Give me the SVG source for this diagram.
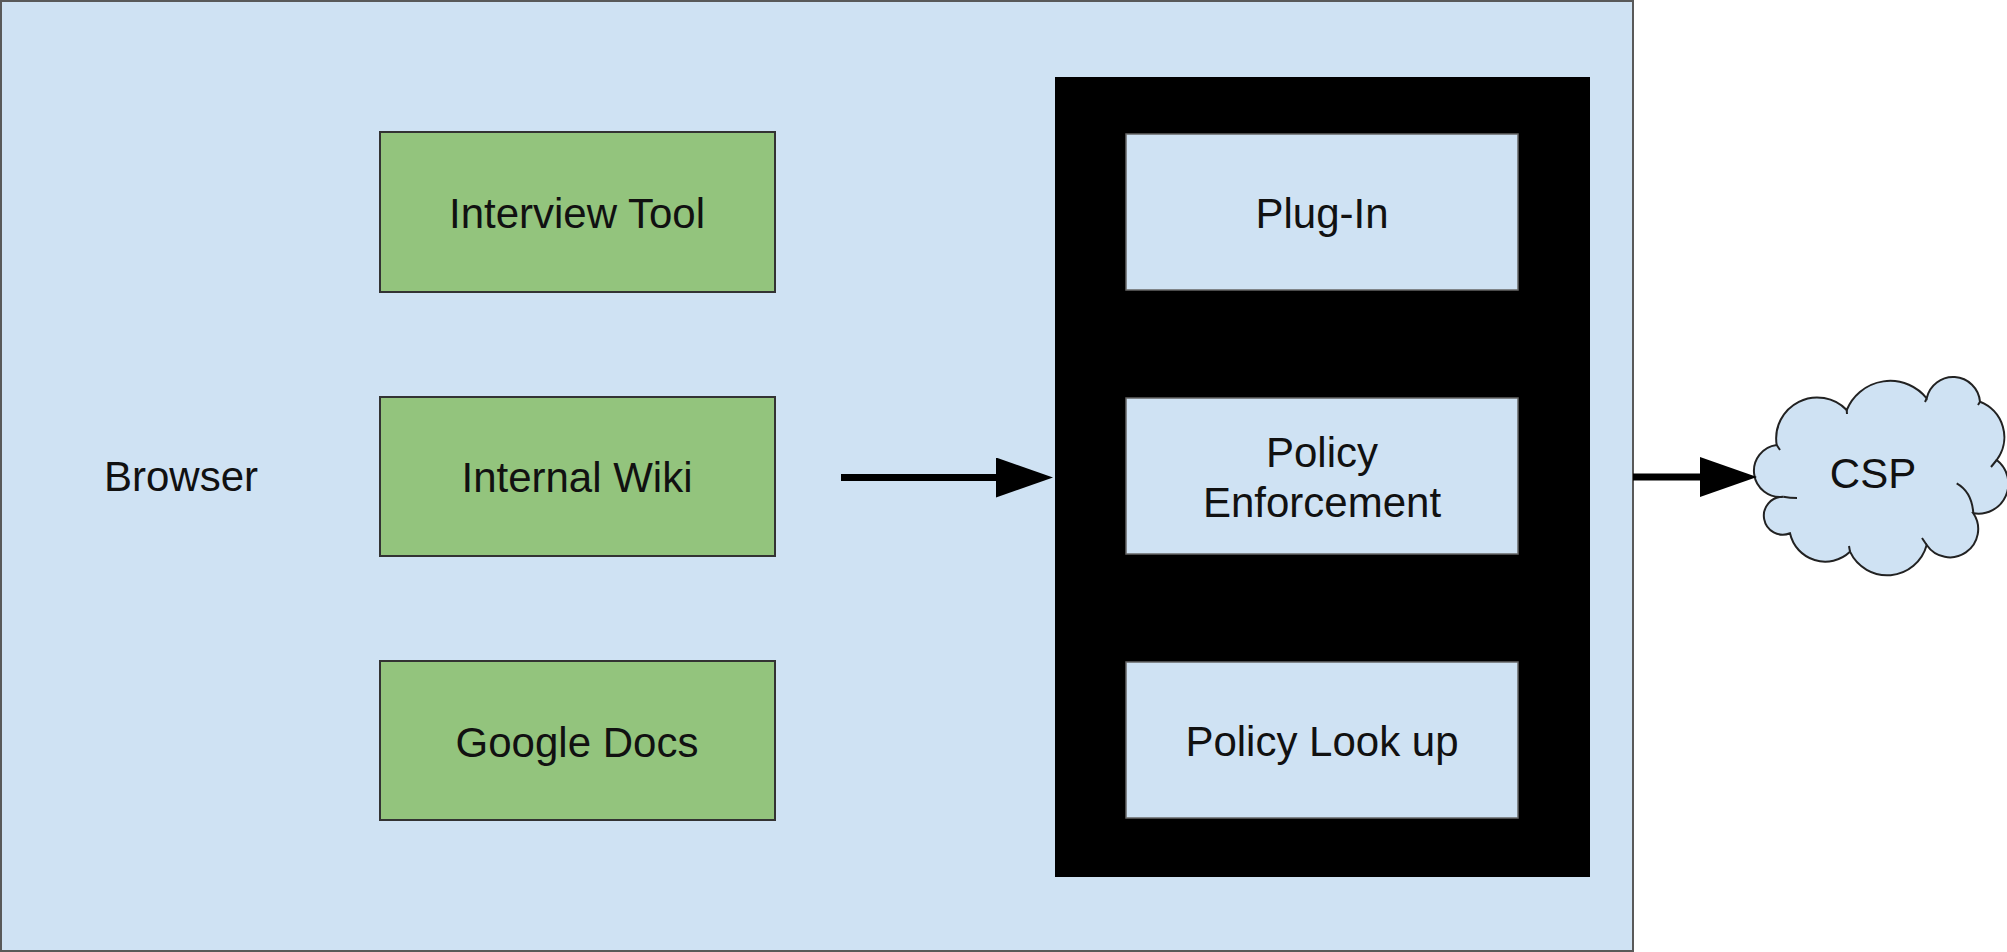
<svg xmlns="http://www.w3.org/2000/svg" width="2007" height="952" viewBox="0 0 2007 952">
  <style>
    .lbl { font-family: "Liberation Sans", Arial, sans-serif; font-size: 42px; fill: #111; text-anchor: middle; }
    .app { fill: #93c47d; stroke: #333333; stroke-width: 2; }
    .mod { fill: #cfe2f3; stroke: #666666; stroke-width: 1.5; }
    .conn { stroke: #000; stroke-width: 7; fill: none; }
  </style>
  <defs>
    <marker id="head" markerUnits="userSpaceOnUse" markerWidth="58" markerHeight="42" refX="2" refY="20" orient="auto">
      <path d="M0,0 L57,20 L0,40 Z" fill="#000"/>
    </marker>
  </defs>

  <g id="browser">
    <rect x="1" y="1" width="1632" height="950" fill="#cfe2f3" stroke="#595959" stroke-width="2"/>
    <text class="lbl" x="181" y="491">Browser</text>
  </g>

  <g id="interview-tool">
    <rect class="app" x="380" y="132" width="395" height="160"/>
    <text class="lbl" x="577" y="228">Interview Tool</text>
  </g>
  <g id="internal-wiki">
    <rect class="app" x="380" y="397" width="395" height="159"/>
    <text class="lbl" x="577" y="492">Internal Wiki</text>
  </g>
  <g id="google-docs">
    <rect class="app" x="380" y="661" width="395" height="159"/>
    <text class="lbl" x="577" y="757">Google Docs</text>
  </g>

  <g id="plugin-container">
    <rect x="1055" y="77" width="535" height="800" fill="#000"/>
  </g>
  <g id="plug-in">
    <rect class="mod" x="1126" y="134" width="392" height="156"/>
    <text class="lbl" x="1322" y="228">Plug-In</text>
  </g>
  <g id="policy-enforcement">
    <rect class="mod" x="1126" y="398" width="392" height="156"/>
    <text class="lbl" x="1322" y="467">Policy</text>
    <text class="lbl" x="1322" y="517">Enforcement</text>
  </g>
  <g id="policy-look-up">
    <rect class="mod" x="1126" y="662" width="392" height="156"/>
    <text class="lbl" x="1322" y="756">Policy Look up</text>
  </g>

  <g id="csp">
    <path d="M1776.7,445 A41 41 0 0 1 1846.7,410 A47 47 0 0 1 1926.7,398.3 A27 27 0 0 1 1980,401.7 A38 38 0 0 1 1996.7,460 A30 30 0 0 1 1973.3,513.3 A28 28 0 0 1 1926.7,545 A41 41 0 0 1 1850,551.7 A36 36 0 0 1 1790,533.3 A19 19 0 1 1 1783.3,496.7 A26 26 0 0 1 1776.7,445 Z" fill="#cfe2f3" stroke="#222" stroke-width="2"/>
    <path d="M1973.3,513.3 Q1972,492 1956.7,483.3 M1783.3,496.7 Q1790,498 1797,498 M1846.7,410 L1847,414 M1926.7,398.3 L1925,402 M1980,401.7 L1978,405 M1996.7,460 L1991,467 M1926.7,545 L1922,538 M1850,551.7 L1849,546 M1776.7,445 L1780,450" fill="none" stroke="#222" stroke-width="2"/>
    <text class="lbl" x="1873" y="488">CSP</text>
  </g>

  <g id="connectors">
    <line class="conn" x1="841" y1="477.5" x2="998" y2="477.5" marker-end="url(#head)"/>
    <line class="conn" x1="1633" y1="477" x2="1702" y2="477" marker-end="url(#head)"/>
  </g>
</svg>
